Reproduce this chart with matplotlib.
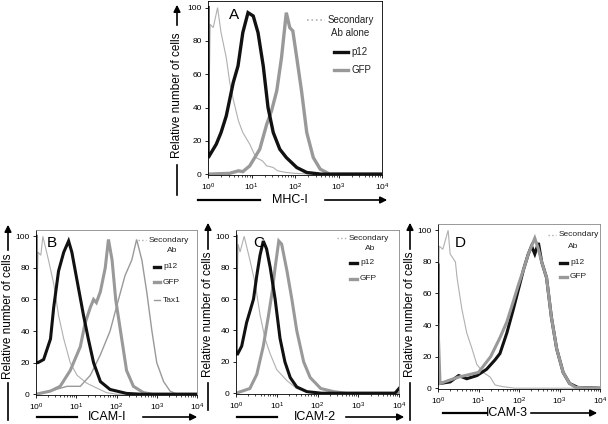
import numpy as np
import matplotlib
matplotlib.use('Agg')
import matplotlib.pyplot as plt
from matplotlib.ticker import FixedLocator, LogLocator, NullFormatter

plt.rcParams['font.family'] = ['Liberation Sans', 'DejaVu Sans']

W, H = 608, 424

# ---- data: log10(fluorescence) positions and relative cell numbers ----
A_sec_lx = [0.0, 0.05, 0.12, 0.22, 0.3, 0.42, 0.5, 0.58, 0.7, 0.8, 0.96, 1.1, 1.25, 1.35, 1.5, 1.6, 1.8, 2.0, 2.4, 4.0]
A_sec_y = [5, 90, 88, 100, 85, 70, 55, 45, 32, 25, 18, 10, 8, 5, 4, 2, 1, 0.5, 0, 0]
A_p12_lx = [0.0, 0.0, 0.03, 0.19, 0.3, 0.42, 0.58, 0.69, 0.8, 0.92, 0.98, 1.04, 1.15, 1.27, 1.38, 1.5, 1.65, 1.8, 2.04, 2.27, 2.6, 4.0]
A_p12_y = [100, 12, 11, 18, 25, 35, 55, 65, 85, 97, 96, 95, 85, 65, 40, 25, 15, 10, 4, 1, 0, 0]
A_gfp_lx = [0.0, 0.5, 0.7, 0.8, 0.96, 1.19, 1.35, 1.46, 1.58, 1.69, 1.8, 1.88, 1.95, 2.04, 2.15, 2.27, 2.42, 2.58, 2.8, 4.0]
A_gfp_y = [0, 0.5, 2, 1.5, 5, 15, 30, 38, 50, 70, 97, 88, 86, 70, 50, 25, 10, 3, 0, 0]

B_sec_lx = [0.0, 0.05, 0.12, 0.17, 0.31, 0.44, 0.56, 0.69, 0.85, 1.02, 1.26, 1.5, 1.75, 2.0, 4.0]
B_sec_y = [40, 90, 88, 100, 85, 70, 50, 35, 20, 12, 7, 4, 1, 0, 0]
B_p12_lx = [0.0, 0.0, 0.05, 0.19, 0.36, 0.44, 0.56, 0.69, 0.81, 0.89, 1.02, 1.18, 1.3, 1.43, 1.6, 1.84, 2.25, 2.6, 4.0]
B_p12_y = [100, 20, 20, 22, 35, 55, 78, 90, 97, 90, 72, 50, 35, 20, 8, 3, 0.5, 0, 0]
B_gfp_lx = [0.0, 0.36, 0.6, 0.85, 1.1, 1.22, 1.35, 1.43, 1.5, 1.6, 1.72, 1.8, 1.89, 1.98, 2.1, 2.25, 2.42, 2.67, 2.9, 4.0]
B_gfp_y = [0, 2, 5, 15, 30, 45, 55, 60, 58, 65, 80, 98, 85, 60, 40, 15, 5, 1, 0, 0]
B_tax_lx = [0.0, 0.36, 0.77, 1.1, 1.35, 1.6, 1.84, 2.05, 2.21, 2.38, 2.5, 2.63, 2.75, 2.88, 3.0, 3.17, 3.33, 3.5, 4.0]
B_tax_y = [0, 2, 5, 5, 12, 25, 40, 60, 75, 85, 98, 85, 65, 40, 20, 8, 2, 0, 0]

C_sec_lx = [0.0, 0.05, 0.1, 0.2, 0.34, 0.47, 0.59, 0.71, 0.84, 1.0, 1.25, 1.49, 1.74, 2.0, 4.0]
C_sec_y = [30, 95, 90, 100, 85, 70, 50, 35, 25, 15, 8, 3, 0.5, 0, 0]
C_p12_lx = [0.0, 0.0, 0.04, 0.14, 0.26, 0.34, 0.43, 0.51, 0.59, 0.67, 0.75, 0.84, 0.96, 1.08, 1.2, 1.33, 1.49, 1.74, 2.1, 3.9, 4.0]
C_p12_y = [100, 25, 25, 30, 45, 52, 60, 75, 88, 97, 92, 80, 60, 35, 20, 10, 4, 1, 0, 0, 3]
C_gfp_lx = [0.0, 0.34, 0.51, 0.67, 0.8, 0.89, 0.96, 1.05, 1.12, 1.25, 1.37, 1.49, 1.66, 1.82, 2.08, 2.4, 2.7, 4.0]
C_gfp_y = [0, 3, 12, 30, 50, 65, 80, 97, 95, 78, 60, 40, 20, 10, 3, 1, 0, 0]

D_sec_lx = [0.0, 0.03, 0.12, 0.25, 0.3, 0.43, 0.47, 0.59, 0.71, 0.84, 0.96, 1.12, 1.29, 1.41, 1.6, 1.9, 4.0]
D_sec_y = [40, 90, 88, 100, 85, 80, 70, 50, 35, 25, 15, 10, 7, 2, 1, 0, 0]
D_p12_lx = [0.0, 0.0, 0.05, 0.3, 0.51, 0.71, 0.96, 1.2, 1.41, 1.53, 1.7, 1.86, 1.98, 2.11, 2.23, 2.31, 2.39, 2.48, 2.56, 2.68, 2.8, 2.93, 3.09, 3.25, 3.45, 4.0]
D_p12_y = [78, 3, 3, 4, 8, 6, 8, 12, 18, 22, 35, 50, 62, 75, 85, 90, 85, 92, 80, 70, 45, 25, 10, 3, 0.5, 0]
D_gfp_lx = [0.0, 0.05, 0.5, 1.0, 1.3, 1.53, 1.7, 1.86, 1.98, 2.11, 2.23, 2.31, 2.39, 2.48, 2.56, 2.68, 2.8, 2.93, 3.09, 3.25, 3.4, 4.0]
D_gfp_y = [40, 3, 7, 10, 20, 32, 42, 55, 65, 75, 85, 90, 95, 88, 80, 70, 45, 25, 10, 3, 0.5, 0]

BLACK = '#111111'
GRAY = '#999999'
LIGHT = '#b0b0b0'

fig = plt.figure(figsize=(W / 100, H / 100), dpi=100)


def fx(x):
    return x / W


def fy(y):
    return 1 - y / H


def make_ax(l, t, r, b, frame='k'):
    ax = fig.add_axes([fx(l), fy(b), fx(r) - fx(l), fy(t) - fy(b)])
    ax.set_xscale('log')
    ax.set_xlim(1, 1e4)
    ax.set_ylim(-0.5, 104)
    ax.xaxis.set_major_locator(FixedLocator([1, 10, 100, 1000, 10000]))
    ax.xaxis.set_minor_locator(LogLocator(base=10, subs=np.arange(2, 10)))
    ax.xaxis.set_minor_formatter(NullFormatter())
    ax.set_yticks([0, 20, 40, 60, 80, 100])
    ax.tick_params(labelsize=6, length=2.5, width=0.6, pad=2)
    ax.tick_params(which='minor', length=1.5, width=0.5)
    for s in ax.spines.values():
        s.set_linewidth(0.6)
    ax.spines['top'].set_color(frame)
    ax.spines['right'].set_color(frame)
    return ax


def curve(ax, lx, y, color, lw):
    ax.plot(10 ** np.array(lx), y, color=color, lw=lw, solid_joinstyle='miter')


def legend_item(x0, x1, y, text, color, lw, ls='-', size=7):
    # coordinates in figure pixels
    fig.add_artist(plt.Line2D([fx(x0), fx(x1)], [fy(y), fy(y)], color=color, lw=lw, ls=ls))
    fig.text(fx(x1 + 3), fy(y), text, fontsize=size, va='center', ha='left', color='#222222')


def ylab(x, yc, line_end, arrow_top, size=8.5):
    fig.text(fx(x), fy(yc), 'Relative number of cells', rotation=90, fontsize=size,
             ha='center', va='center')
    fig.add_artist(plt.Line2D([fx(x), fx(x)], [fy(line_end[0]), fy(line_end[1])], color='k', lw=1.2))
    fig.add_artist(matplotlib.patches.FancyArrowPatch(
        (fx(x), fy(arrow_top[0])), (fx(x), fy(arrow_top[1])), transform=fig.transFigure,
        arrowstyle='-|>,head_length=4,head_width=2', color='k', lw=1.2))


def xlab(xc, y, text, line_x, arrow_x, size=9):
    fig.text(fx(xc), fy(y), text, fontsize=size, ha='center', va='center')
    fig.add_artist(plt.Line2D([fx(line_x[0]), fx(line_x[1])], [fy(y), fy(y)], color='k', lw=1.6))
    fig.add_artist(matplotlib.patches.FancyArrowPatch(
        (fx(arrow_x[0]), fy(y)), (fx(arrow_x[1]), fy(y)), transform=fig.transFigure,
        arrowstyle='-|>,head_length=4,head_width=2', color='k', lw=1.2))


# ---- Panel A ----
axA = make_ax(208, 1, 382, 175)
curve(axA, A_sec_lx, A_sec_y, LIGHT, 0.8)
curve(axA, A_gfp_lx, A_gfp_y, GRAY, 2.4)
curve(axA, A_p12_lx, A_p12_y, BLACK, 2.4)
fig.text(fx(229), fy(15), 'A', fontsize=11, ha='left', va='center')
legend_item(307, 325, 20, 'Secondary', LIGHT, 1.2, ls=':')
fig.text(fx(350), fy(33), 'Ab alone', fontsize=7, ha='center', va='center', color='#222222')
legend_item(334, 348, 52, 'p12', BLACK, 2.4)
legend_item(334, 348, 70, 'GFP', GRAY, 2.4)
ylab(177, 95, (165, 195), (28, 2))
xlab(290, 200, 'MHC-I', (198, 260), (322, 390))

# ---- Panel B ----
axB = make_ax(36, 230, 197, 395, frame='#888888')
curve(axB, B_sec_lx, B_sec_y, LIGHT, 0.8)
curve(axB, B_tax_lx, B_tax_y, GRAY, 1.0)
curve(axB, B_gfp_lx, B_gfp_y, GRAY, 2.2)
curve(axB, B_p12_lx, B_p12_y, BLACK, 2.2)
fig.text(fx(47), fy(243), 'B', fontsize=11, ha='left', va='center')
legend_item(138, 146, 240, 'Secondary', LIGHT, 1.0, ls=':', size=6)
fig.text(fx(172), fy(250), 'Ab', fontsize=6, ha='center', va='center', color='#222222')
legend_item(154, 160, 267, 'p12', BLACK, 2.4, size=6)
legend_item(154, 160, 282, 'GFP', GRAY, 2.4, size=6)
legend_item(154, 160, 300, 'Tax1', GRAY, 1.0, size=6)
ylab(8, 316, (383, 420), (253, 222))
xlab(107, 417, 'ICAM-I', (37, 77), (140, 200))

# ---- Panel C ----
axC = make_ax(236, 230, 399, 394, frame='#888888')
curve(axC, C_sec_lx, C_sec_y, LIGHT, 0.8)
curve(axC, C_gfp_lx, C_gfp_y, GRAY, 2.2)
curve(axC, C_p12_lx, C_p12_y, BLACK, 2.2)
fig.text(fx(253), fy(243), 'C', fontsize=11, ha='left', va='center')
legend_item(337, 346, 238, 'Secondary', LIGHT, 1.0, ls=':', size=6)
fig.text(fx(370), fy(249), 'Ab', fontsize=6, ha='center', va='center', color='#222222')
legend_item(350, 357, 263, 'p12', BLACK, 2.4, size=6)
legend_item(350, 357, 279, 'GFP', GRAY, 2.4, size=6)
ylab(208, 314, (383, 410), (252, 220))
xlab(315, 417, 'ICAM-2', (237, 277), (343, 407))

# ---- Panel D ----
axD = make_ax(438, 224, 600, 389, frame='#888888')
curve(axD, D_sec_lx, D_sec_y, LIGHT, 0.8)
curve(axD, D_p12_lx, D_p12_y, BLACK, 2.2)
curve(axD, D_gfp_lx, D_gfp_y, GRAY, 2.2)
fig.text(fx(455), fy(243), 'D', fontsize=11, ha='left', va='center')
legend_item(548, 556, 235, 'Secondary', LIGHT, 1.0, ls=':', size=6)
fig.text(fx(573), fy(247), 'Ab', fontsize=6, ha='center', va='center', color='#222222')
legend_item(560, 567, 263, 'p12', BLACK, 2.4, size=6)
legend_item(560, 567, 277, 'GFP', GRAY, 2.4, size=6)
ylab(410, 314, (383, 420), (252, 220))
xlab(507, 413, 'ICAM-3', (443, 487), (528, 600))

fig.savefig('out.png', dpi=100)
